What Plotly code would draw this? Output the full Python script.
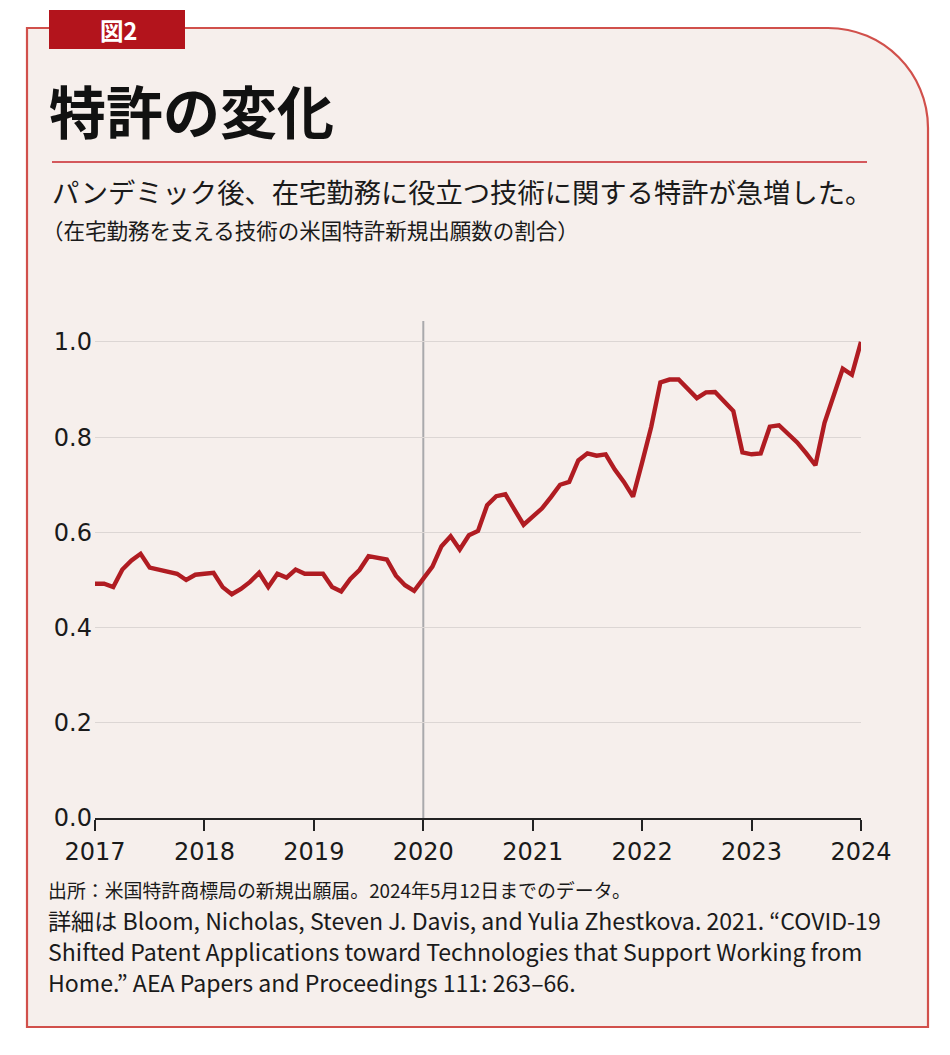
import plotly.graph_objects as go

# ---- data (monthly, Jan 2017 .. Jan 2024) ----
start_year = 2017
share_values = [
    0.492, 0.492, 0.485, 0.522, 0.541, 0.555, 0.526, 0.522, 0.517, 0.513, 0.500, 0.511,
    0.513, 0.515, 0.485, 0.470, 0.481, 0.496, 0.515, 0.485, 0.513, 0.505, 0.522, 0.513,
    0.513, 0.513, 0.485, 0.476, 0.502, 0.521, 0.550, 0.547, 0.543, 0.509, 0.489, 0.477,
    0.504, 0.528, 0.571, 0.592, 0.564, 0.594, 0.603, 0.657, 0.676, 0.680, 0.648, 0.616,
    0.633, 0.650, 0.674, 0.700, 0.706, 0.751, 0.766, 0.761, 0.764, 0.732, 0.706, 0.675,
    0.747, 0.822, 0.915, 0.921, 0.921, 0.903, 0.882, 0.894, 0.895, 0.875, 0.855, 0.768,
    0.764, 0.766, 0.822, 0.825, 0.807, 0.789, 0.766, 0.741, 0.830, 0.886, 0.944, 0.931,
    1.000,
]
months = [start_year + i / 12 for i in range(len(share_values))]

year_ticks = [2017, 2018, 2019, 2020, 2021, 2022, 2023, 2024]
y_ticks = [0.0, 0.2, 0.4, 0.6, 0.8, 1.0]
y_tick_labels = ["0.0", "0.2", "0.4", "0.6", "0.8", "1.0"]
pandemic_year = 2020

label_text = "図2"
title_text = "特許の変化"
subtitle_text = "パンデミック後、在宅勤務に役立つ技術に関する特許が急増した。"
subtitle2_text = "（在宅勤務を支える技術の米国特許新規出願数の割合）"
source_lines = [
    "出所：米国特許商標局の新規出願届。2024年5月12日までのデータ。",
    "詳細は Bloom, Nicholas, Steven J. Davis, and Yulia Zhestkova. 2021. “COVID-19",
    "Shifted Patent Applications toward Technologies that Support Working from",
    "Home.” AEA Papers and Proceedings 111: 263–66.",
]

# ---- style ----
W, H = 950, 1055
BG = "#F6EFEC"
FRAME = "#D1504B"
RED = "#B01C22"
LABEL_RED = "#B3141C"
JP = "Noto Sans CJK JP"
NUM = "DejaVu Sans, Noto Sans CJK JP"

L, R, T, B = 95, 861, 321, 818
y_max = 1.044

fig = go.Figure()
fig.add_trace(go.Scatter(
    x=months, y=share_values, mode="lines",
    line=dict(color=RED, width=4.4), cliponaxis=False,
    hoverinfo="skip", showlegend=False,
))

def px(xp):
    return xp / W

def py(yp):
    return 1 - yp / H

fx0, fy0, fx1, fy1, rad = 27, 28, 928, 1027, 100
k = 0.5523 * rad
path = (
    f"M {px(fx0)},{py(fy1)} L {px(fx0)},{py(fy0)} L {px(fx1 - rad)},{py(fy0)} "
    f"C {px(fx1 - rad + k)},{py(fy0)} {px(fx1)},{py(fy0 + rad - k)} {px(fx1)},{py(fy0 + rad)} "
    f"L {px(fx1)},{py(fy1)} Z"
)
shapes = [
    dict(type="path", xref="paper", yref="paper", path=path,
         fillcolor=BG, line=dict(color=FRAME, width=2.2), layer="below"),
    dict(type="rect", xref="paper", yref="paper",
         x0=px(49), x1=px(185), y0=py(49), y1=py(10),
         fillcolor=LABEL_RED, line=dict(width=0), layer="above"),
    dict(type="line", xref="paper", yref="paper",
         x0=px(52), x1=px(867), y0=py(162), y1=py(162),
         line=dict(color="#C8262C", width=1.6)),
    dict(type="line", xref="x", yref="y",
         x0=pandemic_year, x1=pandemic_year, y0=0, y1=y_max,
         line=dict(color="#A9A9AC", width=2), layer="below"),
]

fig.update_layout(
    width=W, height=H, autosize=False,
    margin=dict(l=0, r=0, t=0, b=0, pad=0, autoexpand=False),
    paper_bgcolor="white", plot_bgcolor="rgba(0,0,0,0)",
    shapes=shapes,
    showlegend=False,
    xaxis=dict(
        domain=[px(L), px(R)], automargin=False,
        range=[start_year, year_ticks[-1]],
        tickmode="array", tickvals=year_ticks, ticktext=[str(y) for y in year_ticks],
        ticks="outside", ticklen=11, tickwidth=2, tickcolor="#222",
        showline=True, linecolor="#222", linewidth=2.4,
        showgrid=False, zeroline=False,
        tickfont=dict(family=NUM, size=24, color="#1a1a1a"),
        fixedrange=True,
    ),
    yaxis=dict(
        domain=[py(B), py(T)], automargin=False,
        range=[0, y_max],
        tickmode="array", tickvals=y_ticks, ticktext=y_tick_labels,
        ticks="", showline=False, zeroline=False,
        showgrid=True, gridcolor="#DCD6D4", gridwidth=1.3,
        tickfont=dict(family=NUM, size=24, color="#1a1a1a"),
        ticklabelstandoff=2,
        fixedrange=True,
    ),
)

annotations = [
    dict(text=f"<b>{label_text}</b>", x=px(118), y=py(30), xref="paper", yref="paper",
         xanchor="center", yanchor="middle", showarrow=False,
         font=dict(family=JP, size=23.5, color="white")),
    dict(text=f"<b>{title_text}</b>", x=px(47), y=py(109), xref="paper", yref="paper",
         xanchor="left", yanchor="middle", showarrow=False,
         font=dict(family=JP, size=57, color="#111")),
    dict(text=subtitle_text, x=px(50), y=py(191), xref="paper", yref="paper",
         xanchor="left", yanchor="middle", showarrow=False,
         font=dict(family=JP, size=27.3, color="#1a1a1a")),
    dict(text=subtitle2_text, x=px(40), y=py(229), xref="paper", yref="paper",
         xanchor="left", yanchor="middle", showarrow=False,
         font=dict(family=JP, size=21.5, color="#1a1a1a")),
]
source_sizes = [18.9, 23.1, 23.1, 23.1]
for i, line in enumerate(source_lines):
    annotations.append(dict(
        text=line, x=px(46), y=py(889 + i * 31), xref="paper", yref="paper",
        xanchor="left", yanchor="middle", showarrow=False,
        font=dict(family=JP, size=source_sizes[i], color="#1a1a1a")))
fig.update_layout(annotations=annotations)

fig.write_html(
    "out.html",
    config={"responsive": False, "displayModeBar": False},
    post_script="document.body.style.margin='0';document.body.style.overflow='hidden';",
)
